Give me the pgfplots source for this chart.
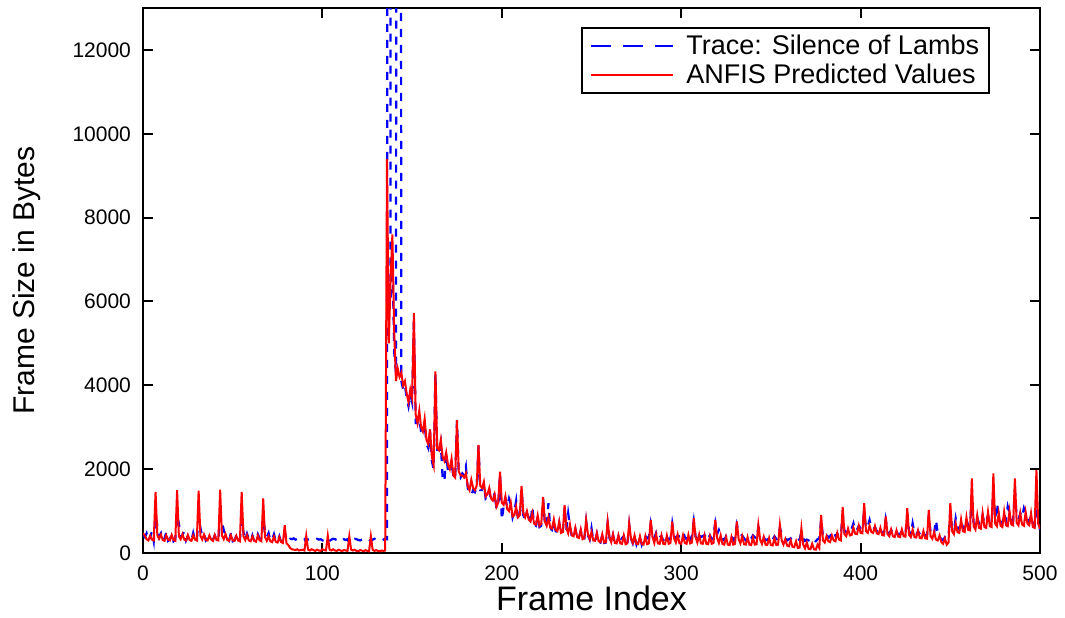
\documentclass[border=0pt]{standalone}
\usepackage{fontspec}
\setmainfont{Liberation Sans}
\usepackage{pgfplots}
\usepackage{pgfplotstable}
\pgfplotsset{compat=1.18}

\pgfplotstableread{
f r b
0 470 430
1 420 380
2 330 470
3 300 290
4 410 380
5 320 520
6 300 280
7 1460 900
8 420 650
9 340 380
10 440 470
11 310 290
12 290 350
13 420 500
14 320 290
15 300 330
16 430 450
17 310 280
18 290 320
19 1500 900
20 400 700
21 330 380
22 450 430
23 320 520
24 300 300
25 430 400
26 310 330
27 290 300
28 420 480
29 320 300
30 300 290
31 1490 880
32 410 600
33 320 400
34 440 460
35 310 300
36 300 350
37 420 400
38 320 300
39 290 320
40 430 420
41 310 330
42 300 300
43 1510 900
44 420 750
45 330 550
46 450 420
47 310 350
48 290 300
49 420 480
50 300 280
51 290 300
52 410 420
53 300 260
54 280 310
55 1460 820
56 400 500
57 310 300
58 430 460
59 300 330
60 280 290
61 400 420
62 290 280
63 270 300
64 420 450
65 300 350
66 280 300
67 1300 800
68 380 550
69 290 380
70 400 480
71 280 300
72 260 320
73 390 450
74 270 280
75 250 270
76 380 400
77 260 260
78 240 250
79 670 500
80 230 350
81 190 300
82 120 340
83 90 330
84 80 350
85 70 320
86 90 330
87 60 340
88 70 320
89 80 300
90 60 330
91 410 260
92 80 330
93 60 340
94 90 320
95 70 310
96 50 330
97 80 340
98 60 320
99 50 330
100 90 300
101 70 310
102 60 330
103 410 260
104 80 290
105 60 320
106 90 340
107 60 330
108 50 310
109 80 350
110 60 320
111 50 300
112 70 330
113 60 310
114 50 330
115 400 240
116 80 300
117 60 320
118 80 340
119 50 330
120 40 310
121 70 300
122 60 320
123 40 330
124 70 310
125 50 340
126 40 320
127 400 280
128 80 320
129 50 340
130 70 310
131 50 320
132 40 330
133 60 300
134 50 320
135 60 340
136 9400 330
137 5000 100000
138 6500 6000
139 7600 7200
140 5300 4800
141 4100 4300
142 4400 60000
143 4200 60000
144 4300 4100
145 4000 3900
146 4100 4000
147 3800 3700
148 3600 3500
149 3900 3800
150 3700 3600
151 5720 5600
152 3300 3100
153 3100 3100
154 3400 3200
155 3000 2900
156 2900 2800
157 3200 3100
158 2700 2600
159 2600 2500
160 2950 2900
161 2300 2200
162 2100 2000
163 4330 4300
164 2500 2400
165 2450 2350
166 2700 2600
167 2300 1800
168 2200 1700
169 2400 2350
170 2100 1950
171 2000 1900
172 2250 2200
173 1850 1800
174 1800 1750
175 3170 3150
176 1950 1900
177 1850 1800
178 1850 1900
179 1800 1850
180 1900 2060
181 1600 1550
182 1500 1450
183 1750 1380
184 1550 1500
185 1500 1450
186 1600 1550
187 2580 2550
188 1600 1500
189 1550 1500
190 1700 1650
191 1350 1300
192 1400 1350
193 1550 1500
194 1300 1250
195 1250 1200
196 1400 1440
197 1100 1050
198 1200 1150
199 1940 1900
200 1200 790
201 1150 1100
202 1350 1300
203 1050 1100
204 1000 1300
205 1200 1150
206 870 850
207 900 1000
208 1100 1250
209 850 800
210 900 850
211 1600 1550
212 950 900
213 850 800
214 1000 950
215 800 850
216 750 700
217 950 1110
218 700 680
219 680 650
220 900 850
221 650 620
222 700 650
223 1340 1300
224 750 700
225 650 620
226 850 1190
227 600 580
228 580 550
229 800 780
230 550 520
231 520 500
232 750 720
233 480 460
234 500 480
235 1145 1100
236 600 550
237 470 950
238 680 640
239 420 400
240 400 380
241 600 570
242 380 360
243 360 350
244 560 530
245 330 320
246 350 340
247 790 760
248 450 420
249 330 320
250 500 590
251 300 290
252 290 280
253 480 460
254 280 270
255 260 250
256 450 430
257 250 240
258 260 250
259 750 720
260 380 360
261 260 250
262 450 430
263 240 240
264 230 220
265 420 400
266 230 220
267 220 360
268 420 400
269 210 200
270 230 220
271 710 680
272 350 340
273 240 230
274 420 400
275 220 210
276 210 360
277 400 380
278 210 200
279 200 330
280 400 420
281 210 350
282 230 380
283 790 700
284 380 420
285 240 360
286 450 480
287 230 330
288 220 380
289 420 400
290 220 300
291 210 360
292 420 430
293 220 320
294 240 330
295 750 700
296 350 400
297 250 360
298 440 420
299 230 400
300 220 450
301 420 510
302 240 380
303 220 330
304 430 450
305 230 300
306 250 420
307 830 760
308 380 400
309 250 330
310 440 460
311 230 380
312 220 400
313 420 430
314 220 300
315 210 360
316 400 420
317 220 330
318 240 450
319 790 720
320 360 450
321 240 550
322 420 430
323 220 350
324 200 300
325 380 400
326 200 330
327 190 350
328 380 400
329 200 300
330 220 380
331 750 680
332 330 510
333 230 430
334 400 420
335 210 350
336 200 300
337 380 380
338 200 330
339 190 350
340 370 420
341 200 380
342 210 330
343 670 620
344 320 510
345 220 420
346 380 380
347 200 300
348 190 320
349 360 380
350 190 300
351 180 320
352 350 400
353 190 330
354 200 350
355 670 600
356 300 470
357 200 380
358 330 360
359 180 300
360 160 330
361 300 350
362 150 310
363 140 280
364 280 320
365 120 300
366 130 330
367 590 500
368 200 350
369 110 290
370 250 320
371 100 300
372 90 280
373 220 350
374 90 300
375 80 280
376 200 330
377 120 350
378 910 800
379 300 400
380 250 380
381 400 450
382 280 360
383 260 400
384 420 480
385 300 530
386 280 400
387 480 470
388 320 380
389 300 420
390 1100 950
391 450 500
392 400 520
393 580 600
394 420 550
395 430 580
396 600 710
397 460 520
398 450 560
399 650 650
400 480 600
401 470 620
402 1190 1000
403 520 580
404 480 640
405 650 790
406 500 600
407 480 560
408 640 620
409 470 520
410 450 500
411 600 590
412 430 480
413 420 450
414 870 800
415 450 520
416 400 460
417 560 550
418 400 480
419 380 540
420 540 520
421 390 430
422 380 450
423 560 540
424 400 480
425 390 460
426 1070 950
427 430 520
428 380 450
429 560 710
430 380 480
431 370 430
432 540 520
433 360 450
434 350 420
435 520 500
436 350 430
437 340 400
438 1030 900
439 400 500
440 340 420
441 500 480
442 320 790
443 300 450
444 420 400
445 260 330
446 220 300
447 350 380
448 200 350
449 250 400
450 1190 1000
451 520 600
452 450 520
453 700 830
454 500 600
455 480 560
456 800 760
457 520 620
458 500 580
459 850 800
460 550 650
461 540 620
462 1780 1400
463 640 720
464 560 650
465 900 850
466 600 700
467 580 680
468 950 900
469 620 700
470 600 760
471 980 900
472 640 720
473 620 700
474 1900 1500
475 700 800
476 640 1190
477 950 900
478 650 750
479 620 700
480 980 950
481 660 780
482 640 1110
483 1000 950
484 680 800
485 660 760
486 1780 1500
487 720 850
488 660 800
489 950 950
490 680 850
491 650 1070
492 980 950
493 700 800
494 660 750
495 950 900
496 620 700
497 600 650
498 1980 950
499 700 800
500 580 550
}\datatable

\begin{document}
\begin{tikzpicture}
\begin{axis}[
  name=ax,
  scale only axis,
  width=448.5pt, height=272.5pt,
  xmin=0, xmax=500, ymin=0, ymax=13000,
  xtick={0,100,...,500},
  ytick={0,2000,4000,6000,8000,10000,12000},
  tick align=inside,
  xtick pos=both, ytick pos=both,
  major tick length=5pt,
  scaled y ticks=false, scaled x ticks=false,
  /pgf/number format/1000 sep={},
  /pgf/number format/assume math mode=true,
  tick label style={font=\fontsize{10.5}{12}\selectfont},
  yticklabel style={xshift=-2.5pt},
  xticklabel style={yshift=-3pt},
  axis line style={line width=1pt},
  every tick/.style={black, line width=1pt},
  xlabel={Frame Index},
  ylabel={Frame Size in Bytes},
  xlabel style={font=\fontsize{17}{20}\selectfont, at={(axis description cs:0.5,-0.0826)}, anchor=center, inner sep=1pt},
  ylabel style={font=\fontsize{15}{18}\selectfont, at={(axis description cs:-0.1293,0.5)}, anchor=center},
  legend style={at={(axis description cs:0.9443,0.9651)}, anchor=north east,
    draw=black, line width=1pt, font=\fontsize{13.5}{15}\selectfont,
    inner xsep=3pt, inner ysep=1.5pt, row sep=-1pt},
  legend cell align=left,
]
\addplot[blue, line width=1.1pt, dash pattern=on 4pt off 4pt,
  legend image code/.code={\draw[blue, line width=1.1pt, dash pattern=on 10pt off 6pt] (0pt,0pt) -- (41pt,0pt); \path (-1pt,0pt) (45pt,0pt);}]
  table[x=f, y=b] {\datatable};
\addlegendentry{Trace: Silence of Lambs}
\addplot[red, line width=1pt,
  legend image code/.code={\draw[red, line width=1pt] (0pt,0pt) -- (41pt,0pt); \path (-1pt,0pt) (45pt,0pt);}]
  table[x=f, y=r] {\datatable};
\addlegendentry{ANFIS Predicted Values}
\end{axis}
\pgfresetboundingbox
\path[use as bounding box] ([shift={(-71.5pt,-32pt)}]ax.south west) rectangle ([shift={(12.5pt,4pt)}]ax.north east);
\end{tikzpicture}
\end{document}
